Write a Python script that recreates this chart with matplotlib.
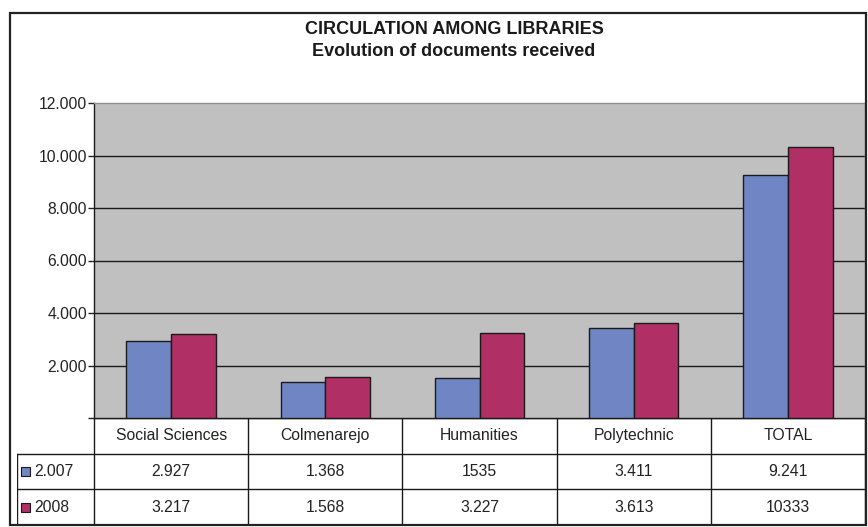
import matplotlib.pyplot as plt
from matplotlib.patches import Rectangle

# ===================================
# Data
# ===================================

categories = ["Social Sciences", "Colmenarejo", "Humanities", "Polytechnic", "TOTAL"]
series_names = ["2.007", "2008"]
values_2007 = [2927, 1368, 1535, 3411, 9241]
values_2008 = [3217, 1568, 3227, 3613, 10333]
table_2007 = ["2.927", "1.368", "1535", "3.411", "9.241"]
table_2008 = ["3.217", "1.568", "3.227", "3.613", "10333"]
y_ticks = [0, 2000, 4000, 6000, 8000, 10000, 12000]
y_tick_labels = ["", "2.000", "4.000", "6.000", "8.000", "10.000", "12.000"]

blue = "#7086c4"
maroon = "#b02f65"
font = "Liberation Sans"
fs = 11.3

plt.rcParams["font.family"] = [font, "DejaVu Sans"]

W, H = 868, 527
fig = plt.figure(figsize=(W / 100, H / 100), dpi=100)

# outer frame
fig.patches.append(Rectangle((10 / W, 1 - 525 / H), 856 / W, 512 / H,
                             transform=fig.transFigure, fill=False,
                             edgecolor="#222222", linewidth=1.6))

# ===================================
# Bars
# ===================================

left, right, top, bottom = 94, 865, 103, 418
ax = fig.add_axes([left / W, 1 - bottom / H, (right - left) / W, (bottom - top) / H])
ax.set_facecolor("#c0c0c0")

x = range(len(categories))
bw = 0.29
ax.bar([i + 0.5 - bw / 2 for i in x], values_2007, width=bw, color=blue,
       edgecolor="#1a1a1a", linewidth=1.0, zorder=3)
ax.bar([i + 0.5 + bw / 2 for i in x], values_2008, width=bw, color=maroon,
       edgecolor="#1a1a1a", linewidth=1.0, zorder=3)

ax.set_xlim(0, len(categories))
ax.set_ylim(0, 12000)
ax.set_yticks(y_ticks)
ax.set_yticklabels(y_tick_labels, fontsize=fs, color="#222222")
ax.set_xticks([])
ax.tick_params(axis="y", length=4, width=1, pad=1, color="#222222")
for yv in y_ticks[1:-1]:
    ax.axhline(yv, color="#1a1a1a", linewidth=1.0, zorder=1)
ax.spines["left"].set_color("#1a1a1a")
ax.spines["bottom"].set_color("#1a1a1a")
ax.spines["top"].set_color("#909090")
ax.spines["right"].set_color("#909090")
for s in ax.spines.values():
    s.set_linewidth(1.0)

fig.text(454 / W, 1 - 30 / H, "CIRCULATION AMONG LIBRARIES",
         ha="center", va="center", fontsize=13, fontweight="bold", color="#1a1a1a")
fig.text(454 / W, 1 - 52 / H, "Evolution of documents received",
         ha="center", va="center", fontsize=13, fontweight="bold", color="#1a1a1a")

# ===================================
# Data table
# ===================================

t_left, t_bottom = 17, 525
tax = fig.add_axes([t_left / W, 1 - t_bottom / H, (right - t_left) / W, (t_bottom - bottom) / H])
tax.set_xlim(-0.5, len(categories))
tax.set_ylim(3, 0)
tax.axis("off")

lc = "#1a1a1a"
n = len(categories)
# horizontal lines
tax.plot([0, n], [0, 0], color=lc, lw=1.0)
for r in [1, 2, 3]:
    tax.plot([-0.5, n], [r, r], color=lc, lw=1.0)
# vertical lines
for c in range(n + 1):
    tax.plot([c, c], [0, 3], color=lc, lw=1.0)
tax.plot([-0.5, -0.5], [1, 3], color=lc, lw=1.0)

for i, cat in enumerate(categories):
    tax.text(i + 0.5, 0.5, cat, ha="center", va="center", fontsize=fs, color="#222222")
    tax.text(i + 0.5, 1.5, table_2007[i], ha="center", va="center", fontsize=fs, color="#222222")
    tax.text(i + 0.5, 2.5, table_2008[i], ha="center", va="center", fontsize=fs, color="#222222")

for r, (name, col) in enumerate(zip(series_names, [blue, maroon])):
    tax.add_patch(Rectangle((-0.474, r + 1.37), 0.058, 0.257, facecolor=col,
                            edgecolor=lc, linewidth=0.8))
    tax.text(-0.385, r + 1.5, name, ha="left", va="center", fontsize=fs, color="#222222")

fig.savefig("out.png", dpi=100)
